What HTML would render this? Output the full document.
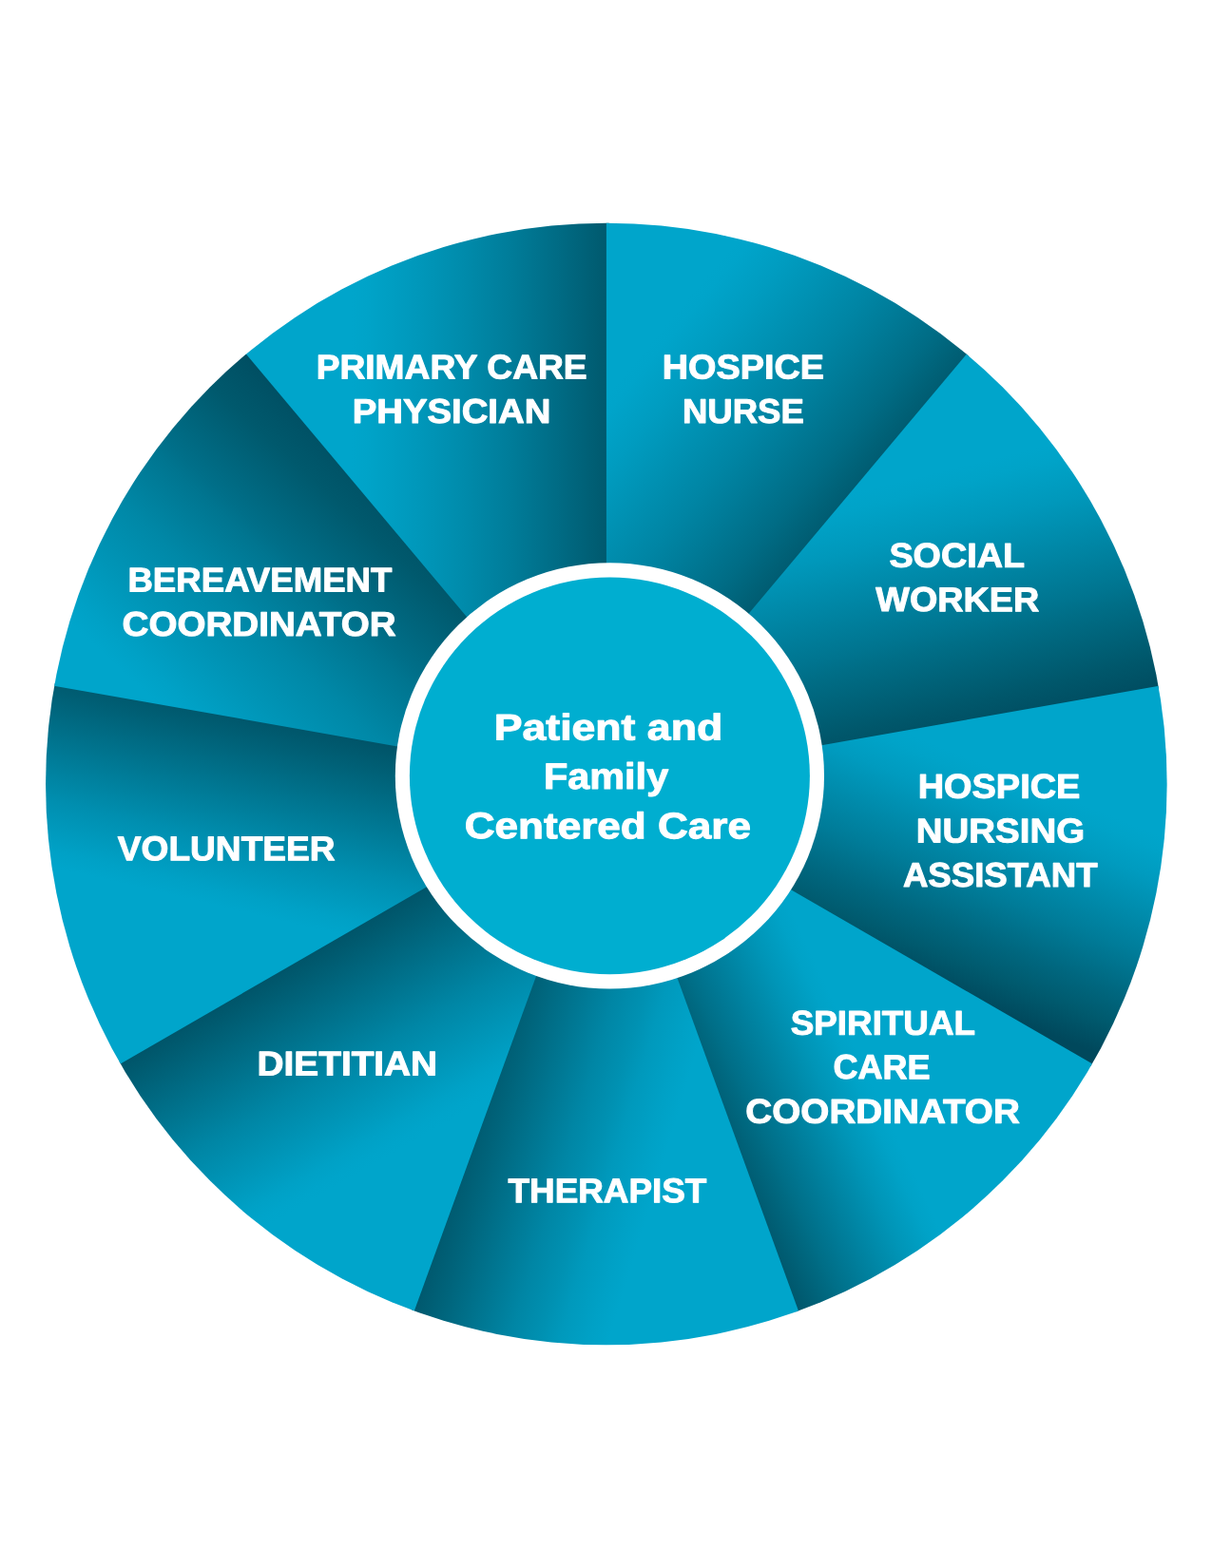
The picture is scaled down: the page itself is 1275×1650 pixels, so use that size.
<!DOCTYPE html>
<html lang="en"><head><meta charset="utf-8">
<title>Patient and Family Centered Care</title>
<style>
html,body{margin:0;padding:0;background:#fff;}
body{width:1275px;height:1650px;overflow:hidden;position:relative;}
svg{display:block;position:absolute;left:0;top:0;will-change:transform;}
text{font-family:"Liberation Sans",sans-serif;font-weight:bold;fill:#fff;stroke:#fff;stroke-linejoin:round;}
.lab{font-size:36px;stroke-width:1.0;}
.ctr{font-size:38.6px;stroke-width:1.0;}
</style></head><body>
<svg width="1275" height="1650" viewBox="0 0 1275 1650" role="img" aria-label="Hospice care team wheel">
<defs>
<linearGradient id="g0" gradientUnits="userSpaceOnUse" x1="686.34" y1="424.20" x2="369.90" y2="424.20">
<stop offset="0.0000" stop-color="#00485c"/>
<stop offset="0.1689" stop-color="#005b70"/>
<stop offset="0.3111" stop-color="#006b84"/>
<stop offset="0.4691" stop-color="#007c99"/>
<stop offset="0.6271" stop-color="#008bab"/>
<stop offset="0.7851" stop-color="#0098bb"/>
<stop offset="0.9431" stop-color="#00a3c8"/>
<stop offset="1.0000" stop-color="#00a5cb"/>
</linearGradient>
<linearGradient id="g1" gradientUnits="userSpaceOnUse" x1="934.57" y1="550.97" x2="694.31" y2="349.37">
<stop offset="0.0000" stop-color="#00485c"/>
<stop offset="0.2029" stop-color="#006177"/>
<stop offset="0.2922" stop-color="#006c85"/>
<stop offset="0.4516" stop-color="#007c99"/>
<stop offset="0.5472" stop-color="#0085a4"/>
<stop offset="0.8342" stop-color="#009cc0"/>
<stop offset="0.9617" stop-color="#00a4ca"/>
<stop offset="1.0000" stop-color="#00a5cb"/>
</linearGradient>
<linearGradient id="g2" gradientUnits="userSpaceOnUse" x1="1038.55" y1="782.37" x2="969.94" y2="500.71">
<stop offset="0.0000" stop-color="#00485c"/>
<stop offset="0.1060" stop-color="#005266"/>
<stop offset="0.1590" stop-color="#00576b"/>
<stop offset="0.3814" stop-color="#006e87"/>
<stop offset="0.4344" stop-color="#00748f"/>
<stop offset="0.7945" stop-color="#0098bb"/>
<stop offset="0.9415" stop-color="#00a3c8"/>
<stop offset="1.0000" stop-color="#00a5cb"/>
</linearGradient>
<linearGradient id="g3" gradientUnits="userSpaceOnUse" x1="978.96" y1="1037.42" x2="1067.89" y2="817.64">
<stop offset="0.0000" stop-color="#00485c"/>
<stop offset="0.1479" stop-color="#005a6e"/>
<stop offset="0.2857" stop-color="#00677f"/>
<stop offset="0.4795" stop-color="#007c99"/>
<stop offset="0.8137" stop-color="#009bbf"/>
<stop offset="0.9373" stop-color="#00a3c8"/>
<stop offset="1.0000" stop-color="#00a5cb"/>
</linearGradient>
<linearGradient id="g4" gradientUnits="userSpaceOnUse" x1="734.92" y1="1218.66" x2="914.61" y2="1134.75">
<stop offset="0.0000" stop-color="#00485c"/>
<stop offset="0.2109" stop-color="#005e74"/>
<stop offset="0.3259" stop-color="#006a82"/>
<stop offset="0.3606" stop-color="#006e87"/>
<stop offset="0.4666" stop-color="#007894"/>
<stop offset="0.7624" stop-color="#0095b7"/>
<stop offset="0.9247" stop-color="#00a2c7"/>
<stop offset="1.0000" stop-color="#00a5cb"/>
</linearGradient>
<linearGradient id="g5" gradientUnits="userSpaceOnUse" x1="454.04" y1="1185.83" x2="687.44" y2="1256.52">
<stop offset="0.0000" stop-color="#00485c"/>
<stop offset="0.2147" stop-color="#005e74"/>
<stop offset="0.2732" stop-color="#00647b"/>
<stop offset="0.5885" stop-color="#0086a5"/>
<stop offset="0.7154" stop-color="#0091b2"/>
<stop offset="0.7932" stop-color="#0099bc"/>
<stop offset="0.9202" stop-color="#00a1c6"/>
<stop offset="1.0000" stop-color="#00a5cb"/>
</linearGradient>
<linearGradient id="g6" gradientUnits="userSpaceOnUse" x1="275.65" y1="996.76" x2="403.99" y2="1219.06">
<stop offset="0.0000" stop-color="#00485c"/>
<stop offset="0.1702" stop-color="#005a6f"/>
<stop offset="0.5909" stop-color="#0086a5"/>
<stop offset="0.9026" stop-color="#00a1c6"/>
<stop offset="0.9610" stop-color="#00a4ca"/>
<stop offset="1.0000" stop-color="#00a5cb"/>
</linearGradient>
<linearGradient id="g7" gradientUnits="userSpaceOnUse" x1="252.51" y1="718.39" x2="199.04" y2="946.23">
<stop offset="0.0000" stop-color="#00485c"/>
<stop offset="0.1869" stop-color="#005a6f"/>
<stop offset="0.2491" stop-color="#006076"/>
<stop offset="0.6762" stop-color="#008bab"/>
<stop offset="0.7048" stop-color="#008eaf"/>
<stop offset="0.9275" stop-color="#00a1c6"/>
<stop offset="1.0000" stop-color="#00a5cb"/>
</linearGradient>
<linearGradient id="g8" gradientUnits="userSpaceOnUse" x1="413.54" y1="482.16" x2="171.39" y2="745.55">
<stop offset="0.0000" stop-color="#00485c"/>
<stop offset="0.1109" stop-color="#005266"/>
<stop offset="0.2045" stop-color="#00596d"/>
<stop offset="0.4174" stop-color="#006f89"/>
<stop offset="0.4606" stop-color="#007590"/>
<stop offset="0.6391" stop-color="#0088a7"/>
<stop offset="0.8004" stop-color="#0095b7"/>
<stop offset="0.9390" stop-color="#00a1c6"/>
<stop offset="1.0000" stop-color="#00a5cb"/>
</linearGradient>
<clipPath id="wheel"><ellipse cx="637.85" cy="824.95" rx="589.8" ry="590.3"/></clipPath>
</defs>
<rect width="1275" height="1650" fill="#fff"/>
<g clip-path="url(#wheel)">
<path d="M637.90 824.20 L185.15 290.33 L350.60 34.86 L641.57 124.21 Z" fill="url(#g0)"/>
<path d="M637.90 824.20 L637.90 124.20 L925.20 34.86 L1090.65 290.33 Z" fill="url(#g1)"/>
<path d="M637.90 824.20 L1087.85 287.97 L1365.36 404.20 L1327.89 706.26 Z" fill="url(#g2)"/>
<path d="M637.90 824.20 L1327.27 702.65 L1465.14 970.06 L1242.28 1177.37 Z" fill="url(#g3)"/>
<path d="M637.90 824.20 L1244.12 1174.20 L1177.84 1467.68 L873.87 1483.23 Z" fill="url(#g4)"/>
<path d="M637.90 824.20 L877.31 1481.98 L637.90 1664.20 L395.05 1480.72 Z" fill="url(#g5)"/>
<path d="M637.90 824.20 L398.49 1481.98 L97.96 1467.68 L29.86 1171.02 Z" fill="url(#g6)"/>
<path d="M637.90 824.20 L31.68 1174.20 L-189.34 970.06 L-50.82 699.04 Z" fill="url(#g7)"/>
<path d="M637.90 824.20 L-51.47 702.65 L-89.56 404.20 L187.95 287.97 Z" fill="url(#g8)"/>
</g>
<ellipse cx="641.4" cy="816.4" rx="225.6" ry="224.1" fill="#fff"/>
<ellipse cx="641.4" cy="816.4" rx="210.5" ry="208.8" fill="#00aed0"/>
<text class="lab" transform="translate(332.66 398.40) rotate(0.03)" textLength="284.95" lengthAdjust="spacingAndGlyphs">PRIMARY CARE</text>
<text class="lab" transform="translate(370.75 444.90) rotate(0.03)" textLength="208.58" lengthAdjust="spacingAndGlyphs">PHYSICIAN</text>
<text class="lab" transform="translate(696.66 398.40) rotate(0.03)" textLength="170.30" lengthAdjust="spacingAndGlyphs">HOSPICE</text>
<text class="lab" transform="translate(717.92 444.90) rotate(0.03)" textLength="127.92" lengthAdjust="spacingAndGlyphs">NURSE</text>
<text class="lab" transform="translate(935.45 596.80) rotate(0.03)" textLength="142.53" lengthAdjust="spacingAndGlyphs">SOCIAL</text>
<text class="lab" transform="translate(921.37 643.10) rotate(0.03)" textLength="171.80" lengthAdjust="spacingAndGlyphs">WORKER</text>
<text class="lab" transform="translate(965.66 839.70) rotate(0.03)" textLength="170.71" lengthAdjust="spacingAndGlyphs">HOSPICE</text>
<text class="lab" transform="translate(963.85 886.40) rotate(0.03)" textLength="177.24" lengthAdjust="spacingAndGlyphs">NURSING</text>
<text class="lab" transform="translate(949.91 932.90) rotate(0.03)" textLength="204.68" lengthAdjust="spacingAndGlyphs">ASSISTANT</text>
<text class="lab" transform="translate(831.81 1088.70) rotate(0.03)" textLength="194.13" lengthAdjust="spacingAndGlyphs">SPIRITUAL</text>
<text class="lab" transform="translate(876.57 1135.10) rotate(0.03)" textLength="102.04" lengthAdjust="spacingAndGlyphs">CARE</text>
<text class="lab" transform="translate(784.37 1181.70) rotate(0.03)" textLength="288.47" lengthAdjust="spacingAndGlyphs">COORDINATOR</text>
<text class="lab" transform="translate(534.53 1265.20) rotate(0.03)" textLength="208.75" lengthAdjust="spacingAndGlyphs">THERAPIST</text>
<text class="lab" transform="translate(270.57 1131.50) rotate(0.03)" textLength="189.56" lengthAdjust="spacingAndGlyphs">DIETITIAN</text>
<text class="lab" transform="translate(123.87 905.20) rotate(0.03)" textLength="228.67" lengthAdjust="spacingAndGlyphs">VOLUNTEER</text>
<text class="lab" transform="translate(134.43 622.40) rotate(0.03)" textLength="277.95" lengthAdjust="spacingAndGlyphs">BEREAVEMENT</text>
<text class="lab" transform="translate(128.51 668.90) rotate(0.03)" textLength="288.18" lengthAdjust="spacingAndGlyphs">COORDINATOR</text>
<text class="ctr" transform="translate(519.77 778.40) rotate(0.03)" textLength="240.38" lengthAdjust="spacingAndGlyphs">Patient and</text>
<text class="ctr" transform="translate(571.92 829.90) rotate(0.03)" textLength="131.26" lengthAdjust="spacingAndGlyphs">Family</text>
<text class="ctr" transform="translate(488.79 882.10) rotate(0.03)" textLength="301.11" lengthAdjust="spacingAndGlyphs">Centered Care</text>
</svg>
</body></html>
